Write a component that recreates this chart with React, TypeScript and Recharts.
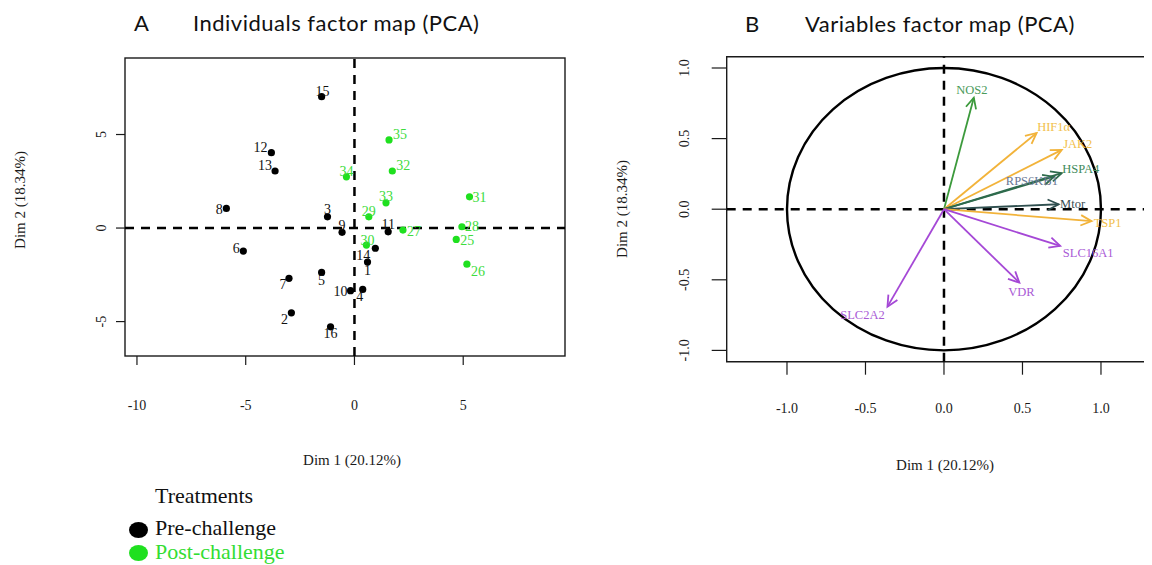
import React from "react";
import {
  ScatterChart,
  Scatter,
  XAxis,
  YAxis,
  ReferenceLine,
  ReferenceArea,
} from "recharts";

// individuals: pre-challenge (black) and post-challenge (green)
const preIds = [1, 2, 3, 4, 5, 6, 7, 8, 9, 10, 11, 12, 13, 14, 15, 16];
const preDim1 = [0.6, -2.9, -1.24, 0.38, -1.51, -5.11, -3.01, -5.89, -0.57, -0.18, 1.55, -3.82, -3.65, 0.96, -1.51, -1.1];
const preDim2 = [-1.82, -4.53, 0.6, -3.28, -2.37, -1.23, -2.69, 1.05, -0.23, -3.35, -0.2, 4.03, 3.05, -1.08, 7.02, -5.28];

const postIds = [25, 26, 27, 28, 29, 30, 31, 32, 33, 34, 35];
const postDim1 = [4.68, 5.17, 2.23, 4.94, 0.66, 0.55, 5.29, 1.74, 1.45, -0.37, 1.59];
const postDim2 = [-0.61, -1.93, -0.11, 0.07, 0.6, -0.91, 1.67, 3.05, 1.35, 2.74, 4.71];

const indTicksX = [-10, -5, 0, 5];
const indTicksY = [-5, 0, 5];

// variables (correlation circle)
const varNames = ["NOS2", "HIF1α", "JAK2", "HSPA4", "RPS6KB1", "Mtor", "TSP1", "SLC16A1", "VDR", "SLC2A2"];
const varDim1 = [0.19, 0.59, 0.75, 0.75, 0.7, 0.73, 0.94, 0.74, 0.48, -0.36];
const varDim2 = [0.79, 0.54, 0.42, 0.255, 0.23, 0.035, -0.085, -0.26, -0.52, -0.69];
const varGroup = ["green", "gold", "gold", "dgreen", "dgreen", "slate", "gold", "purple", "purple", "purple"];

const varTicks = [-1, -0.5, 0, 0.5, 1];

const preData = preIds.map((id, i) => ({ id, x: preDim1[i], y: preDim2[i] }));
const postData = postIds.map((id, i) => ({ id, x: postDim1[i], y: postDim2[i] }));

const arrowColor: Record<string, string> = {
  green: "#3c9a3c",
  gold: "#f2b33a",
  dgreen: "#2e6b4c",
  slate: "#2f4f4f",
  purple: "#a548d6",
};
const textColor: Record<string, string> = {
  green: "#4a9a5a",
  gold: "#f2c04a",
  dgreen: "#3d8a5a",
  slate: "#3a4f55",
  purple: "#a95ad6",
};
// RPS6KB1 label is drawn in a greyish blue
const varTextOverride: Record<string, string> = { RPS6KB1: "#6a7794" };

// label placement around each point, px
const indLabelPos: Record<number, [number, number]> = {
  1: [0, 8], 2: [-7, 7], 3: [0, -7], 4: [-3, 7], 5: [0, 8], 6: [-7, -3], 7: [-6, 6], 8: [-7, 1],
  9: [0, -7], 10: [-10, 1], 11: [0, -7], 12: [-11, -5], 13: [-10, -5], 14: [-12, 7], 15: [1, -5], 16: [0, 7],
  25: [11, 1], 26: [11, 7], 27: [11, 1], 28: [10, 0], 29: [0, -5], 30: [1, -5], 31: [10, 1],
  32: [11, -5], 33: [0, -6], 34: [0, -5], 35: [11, -5],
};
const varLabelPos: Record<string, [number, number]> = {
  NOS2: [-2, -8], "HIF1α": [17, -6], JAK2: [16, -6], HSPA4: [19, -4], RPS6KB1: [-22, 4],
  Mtor: [14, 0], TSP1: [16, 2], SLC16A1: [28, 7], VDR: [2, 9], SLC2A2: [-25, 8],
};

const serif = "'Liberation Serif', 'Times New Roman', serif";
const sans = "Lato, 'Open Sans', sans-serif";
const INK = "#1a1a1a";

const indDomX: [number, number] = [-10.55, 9.68];
const indDomY: [number, number] = [-6.84, 9.09];
// the variables frame is cut by the page edge on the right
const varDomX: [number, number] = [-1.384, 1.325];
const varDomY: [number, number] = [-1.08, 1.08];

const xTick = (labelY: number, fmt: (v: number) => string) => (props: any) => (
  <text x={props.x} y={labelY} textAnchor="middle" dominantBaseline="central" fontFamily={serif} fontSize={14} fill={INK}>
    {fmt(props.payload.value)}
  </text>
);

const yTick = (labelX: number, fmt: (v: number) => string) => (props: any) => (
  <text
    x={labelX}
    y={props.y}
    transform={`rotate(-90 ${labelX} ${props.y})`}
    textAnchor="middle"
    dominantBaseline="central"
    fontFamily={serif}
    fontSize={14}
    fill={INK}
  >
    {fmt(props.payload.value)}
  </text>
);

const pointShape = (dot: string, label: string) => (props: any) => {
  const { cx, cy, payload } = props;
  const [dx, dy] = indLabelPos[payload.id] || [0, -7];
  return (
    <g>
      <circle cx={cx} cy={cy} r={3.6} fill={dot} />
      <text x={cx + dx} y={cy + dy} textAnchor="middle" dominantBaseline="central" fontFamily={serif} fontSize={14} fill={label}>
        {payload.id}
      </text>
    </g>
  );
};

const arrowShape = (name: string, group: string) => (props: any) => {
  const { x1, y1, x2, y2 } = props;
  const col = arrowColor[group];
  const ang = Math.atan2(y2 - y1, x2 - x1);
  const len = 12;
  const spread = Math.PI / 7;
  const ax = x2 - len * Math.cos(ang - spread);
  const ay = y2 - len * Math.sin(ang - spread);
  const bx = x2 - len * Math.cos(ang + spread);
  const by = y2 - len * Math.sin(ang + spread);
  const [dx, dy] = varLabelPos[name] || [0, 0];
  return (
    <g>
      <line x1={x1} y1={y1} x2={x2} y2={y2} stroke={col} strokeWidth={1.8} />
      <polyline points={`${ax},${ay} ${x2},${y2} ${bx},${by}`} fill="none" stroke={col} strokeWidth={1.8} />
      <text
        x={x2 + dx}
        y={y2 + dy}
        textAnchor="middle"
        dominantBaseline="central"
        fontFamily={serif}
        fontSize={12.5}
        fill={varTextOverride[name] || textColor[group]}
      >
        {name}
      </text>
    </g>
  );
};

const ellipseShape = (props: any) => {
  const { x, y, width, height } = props;
  return (
    <ellipse cx={x + width / 2} cy={y + height / 2} rx={width / 2} ry={height / 2} fill="none" stroke="#000" strokeWidth={2.4} />
  );
};

const boxShape = (props: any) => (
  <rect x={props.x} y={props.y} width={props.width} height={props.height} fill="none" stroke={INK} strokeWidth={1.4} />
);

// frame without its right side
const openBoxShape = (props: any) => {
  const { x, y, width, height } = props;
  return (
    <path
      d={`M${x + width},${y} H${x} V${y + height} H${x + width}`}
      fill="none"
      stroke={INK}
      strokeWidth={1.4}
    />
  );
};

const abs = (left: number, top: number, extra: React.CSSProperties = {}): React.CSSProperties => ({
  position: "absolute",
  left,
  top,
  whiteSpace: "nowrap",
  ...extra,
});

const titleStyle: React.CSSProperties = { fontFamily: sans, fontSize: 22, letterSpacing: 0.5, color: "#111" };

export default function App() {
  return (
    <div style={{ position: "relative", width: 1144, height: 557, background: "#fff" }}>
      <style>{"html, body { overflow: hidden; }"}</style>
      {/* panel titles */}
      <div style={abs(126, 1, titleStyle)}>A</div>
      <div style={abs(185, 1, titleStyle)}>Individuals factor map (PCA)</div>
      <div style={abs(737, 2, titleStyle)}>B</div>
      <div style={abs(797, 2, titleStyle)}>Variables factor map (PCA)</div>

      {/* individuals factor map */}
      <div style={abs(0, 0, { width: 600, height: 480 })}>
        <ScatterChart width={600} height={480} margin={{ top: 50, left: 57, right: 43, bottom: 72 }}>
          <XAxis
            type="number"
            dataKey="x"
            domain={indDomX}
            allowDataOverflow
            ticks={indTicksX}
            height={60}
            axisLine={false}
            tickLine={{ stroke: INK, strokeWidth: 1.2 }}
            tickSize={9}
            tick={xTick(397, (v) => String(v))}
          />
          <YAxis
            type="number"
            dataKey="y"
            domain={indDomY}
            allowDataOverflow
            ticks={indTicksY}
            width={60}
            axisLine={false}
            tickLine={{ stroke: INK, strokeWidth: 1.2 }}
            tickSize={9}
            tick={yTick(94, (v) => String(v))}
          />
          <ReferenceArea x1={indDomX[0]} x2={indDomX[1]} y1={indDomY[0]} y2={indDomY[1]} ifOverflow="visible" shape={boxShape} />
          <ReferenceLine x={0} stroke="#000" strokeWidth={2.5} strokeDasharray="9 7" />
          <ReferenceLine y={0} stroke="#000" strokeWidth={2.5} strokeDasharray="9 7" />
          <Scatter data={preData} isAnimationActive={false} shape={pointShape("#000", "#111")} />
          <Scatter data={postData} isAnimationActive={false} shape={pointShape("#1fe01f", "#3ddc3d")} />
        </ScatterChart>
      </div>
      <div style={abs(344, 452, { transform: "translate(-50%,-50%)", fontFamily: serif, fontSize: 15, color: INK })}>
        Dim 1 (20.12%)
      </div>
      <div
        style={abs(12, 192, { transform: "translate(-50%,-50%) rotate(-90deg)", fontFamily: serif, fontSize: 15, color: INK })}
      >
        Dim 2 (18.34%)
      </div>

      {/* variables factor map */}
      <div style={abs(600, 0, { width: 544, height: 480 })}>
        <ScatterChart width={544} height={480} margin={{ top: 48.7, left: 58.7, right: 0, bottom: 66.3 }}>
          <XAxis
            type="number"
            dataKey="x"
            domain={varDomX}
            allowDataOverflow
            ticks={varTicks}
            height={60}
            axisLine={false}
            tickLine={{ stroke: INK, strokeWidth: 1.2 }}
            tickSize={13}
            tick={xTick(400, (v) => v.toFixed(1))}
          />
          <YAxis
            type="number"
            dataKey="y"
            domain={varDomY}
            allowDataOverflow
            ticks={varTicks}
            width={60}
            axisLine={false}
            tickLine={{ stroke: INK, strokeWidth: 1.2 }}
            tickSize={15}
            tick={yTick(77, (v) => v.toFixed(1))}
          />
          <ReferenceArea x1={varDomX[0]} x2={varDomX[1]} y1={varDomY[0]} y2={varDomY[1]} ifOverflow="visible" shape={openBoxShape} />
          <ReferenceLine x={0} stroke="#000" strokeWidth={2.5} strokeDasharray="9 7" />
          <ReferenceLine y={0} stroke="#000" strokeWidth={2.5} strokeDasharray="9 7" />
          <ReferenceArea x1={-1} x2={1} y1={-1} y2={1} ifOverflow="visible" shape={ellipseShape} />
          {varNames.map((name, i) => (
            <ReferenceLine
              key={name}
              segment={[
                { x: 0, y: 0 },
                { x: varDim1[i], y: varDim2[i] },
              ]}
              ifOverflow="visible"
              shape={arrowShape(name, varGroup[i])}
            />
          ))}
          <Scatter data={[]} isAnimationActive={false} />
        </ScatterChart>
      </div>
      <div style={abs(937, 457, { transform: "translate(-50%,-50%)", fontFamily: serif, fontSize: 15, color: INK })}>
        Dim 1 (20.12%)
      </div>
      <div
        style={abs(614, 201, { transform: "translate(-50%,-50%) rotate(-90deg)", fontFamily: serif, fontSize: 15, color: INK })}
      >
        Dim 2 (18.34%)
      </div>

      {/* treatments legend */}
      <div style={abs(147, 475, { fontFamily: serif, fontSize: 22, color: "#111" })}>Treatments</div>
      <div style={abs(121, 514, { width: 19, height: 16, borderRadius: "50%", background: "#000" })} />
      <div style={abs(147, 507, { fontFamily: serif, fontSize: 22, color: "#111" })}>Pre-challenge</div>
      <div style={abs(121, 537, { width: 19, height: 16, borderRadius: "50%", background: "#1fe01f" })} />
      <div style={abs(147, 531, { fontFamily: serif, fontSize: 22, color: "#33dd33" })}>Post-challenge</div>
    </div>
  );
}
